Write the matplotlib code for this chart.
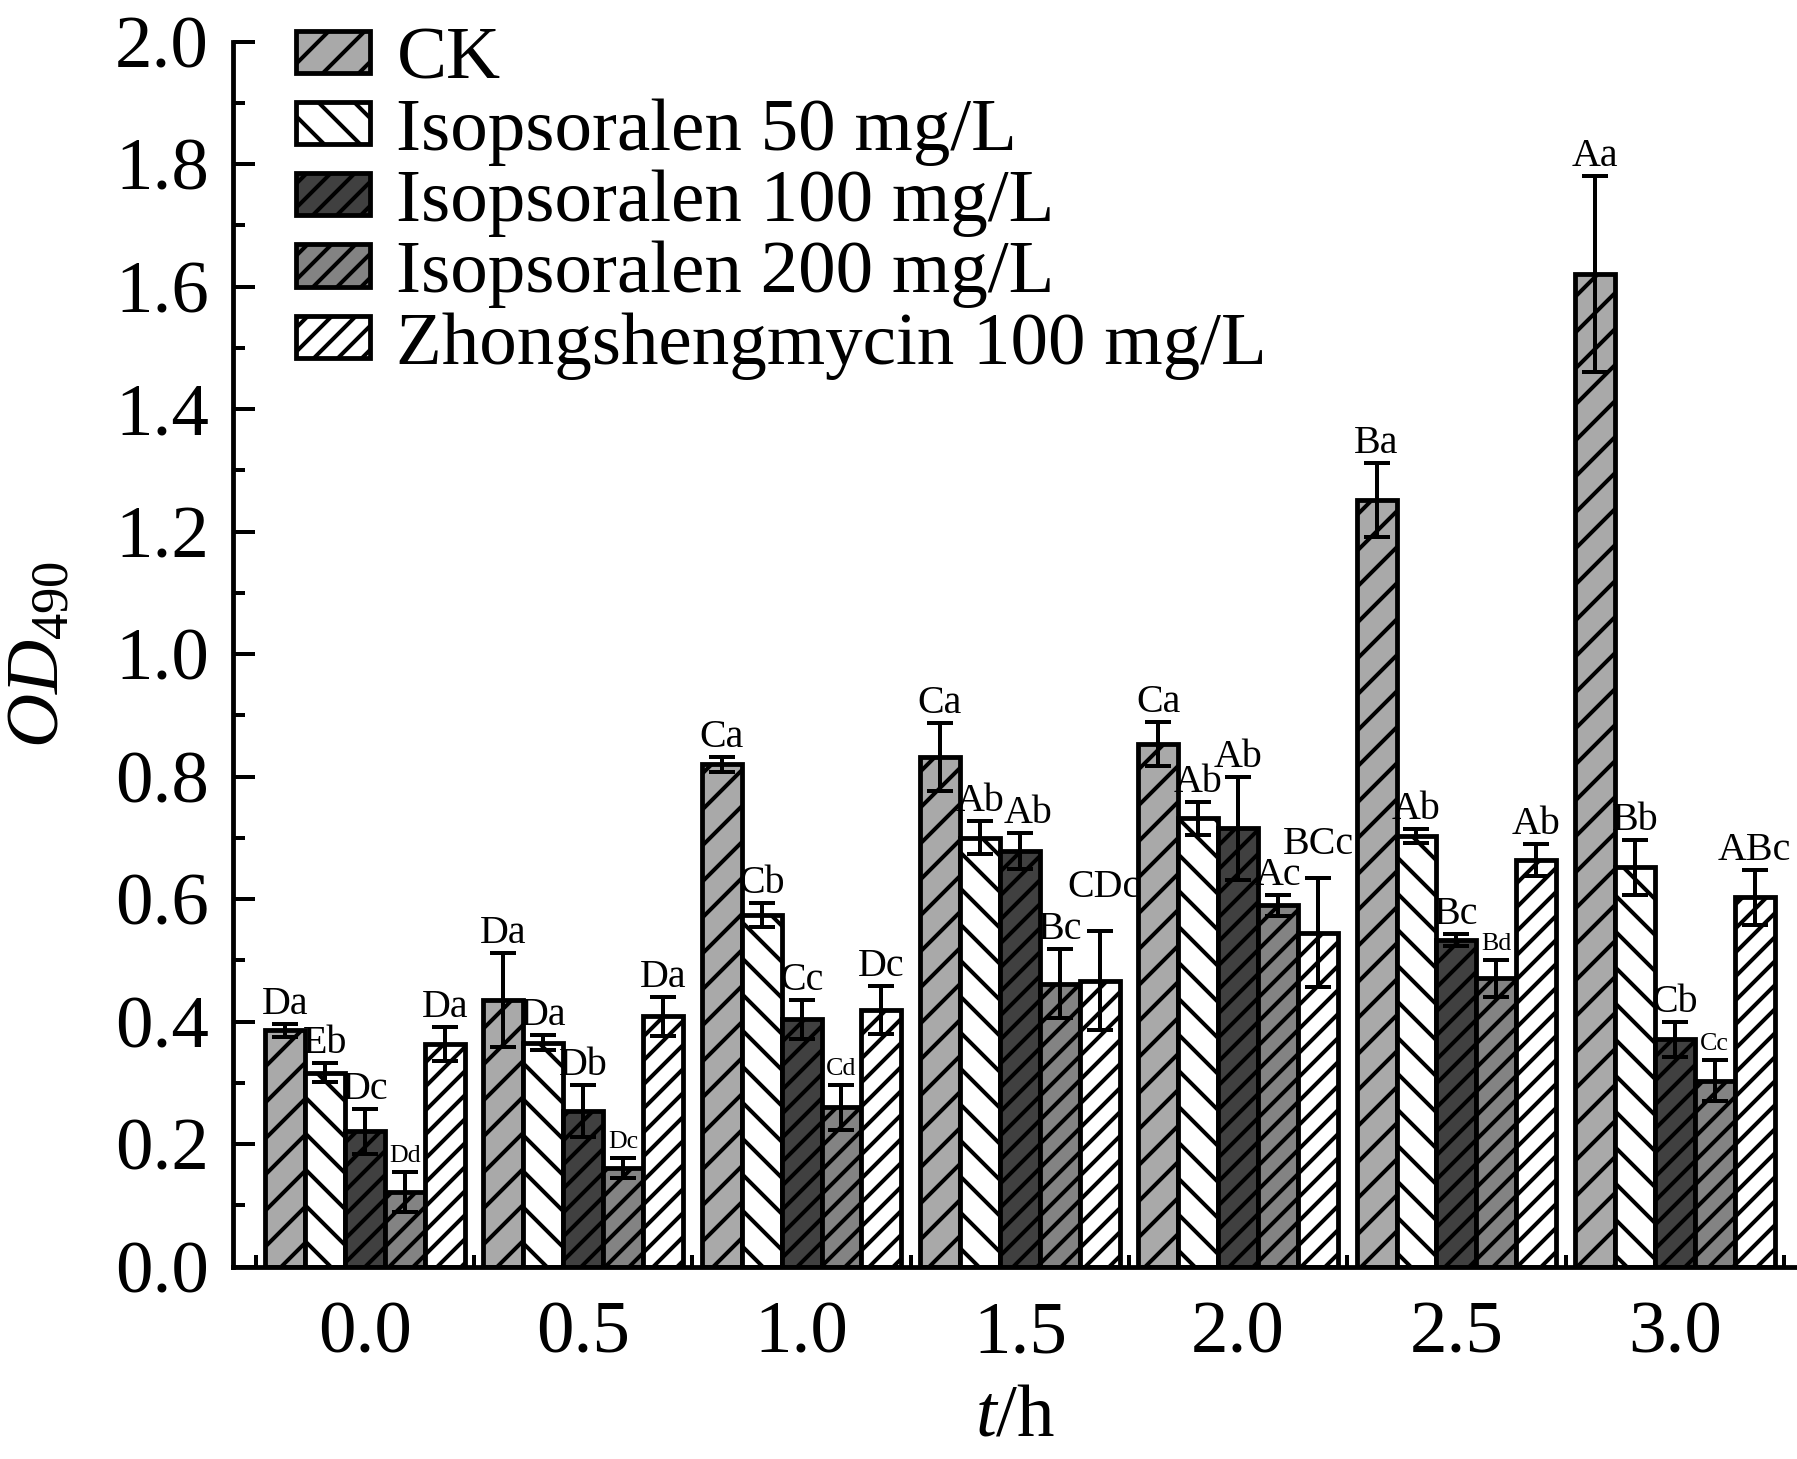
import numpy as np
import matplotlib
matplotlib.use("Agg")
import matplotlib.pyplot as plt
from matplotlib.ticker import MultipleLocator, FormatStrFormatter

# values
times = [0.0, 0.5, 1.0, 1.5, 2.0, 2.5, 3.0]
series_names = ["CK", "Isopsoralen 50 mg/L", "Isopsoralen 100 mg/L",
                "Isopsoralen 200 mg/L", "Zhongshengmycin 100 mg/L"]

ck = [0.386, 0.435, 0.820, 0.832, 0.853, 1.252, 1.621]
ck_err = [0.011, 0.077, 0.013, 0.055, 0.036, 0.060, 0.160]
iso50 = [0.317, 0.366, 0.574, 0.700, 0.732, 0.703, 0.652]
iso50_err = [0.016, 0.012, 0.020, 0.027, 0.027, 0.011, 0.045]
iso100 = [0.221, 0.254, 0.404, 0.679, 0.716, 0.533, 0.371]
iso100_err = [0.037, 0.043, 0.032, 0.029, 0.084, 0.010, 0.028]
iso200 = [0.122, 0.161, 0.260, 0.462, 0.590, 0.471, 0.304]
iso200_err = [0.033, 0.016, 0.036, 0.056, 0.017, 0.030, 0.034]
zhong = [0.364, 0.409, 0.419, 0.467, 0.545, 0.664, 0.603]
zhong_err = [0.028, 0.032, 0.039, 0.081, 0.089, 0.026, 0.045]

ck_sig = ["Da", "Da", "Ca", "Ca", "Ca", "Ba", "Aa"]
iso50_sig = ["Eb", "Da", "Cb", "Ab", "Ab", "Ab", "Bb"]
iso100_sig = ["Dc", "Db", "Cc", "Ab", "Ab", "Bc", "Cb"]
iso200_sig = ["Dd", "Dc", "Cd", "Bc", "Ac", "Bd", "Cc"]
zhong_sig = ["Da", "Da", "Dc", "CDc", "BCc", "Ab", "ABc"]

means = [ck, iso50, iso100, iso200, zhong]
errs = [ck_err, iso50_err, iso100_err, iso200_err, zhong_err]
sigs = [ck_sig, iso50_sig, iso100_sig, iso200_sig, zhong_sig]

# styles
fills = ["#a9a9a9", "white", "#404040", "#838383", "white"]
hatches = ["//", "\\\\", "///", "///", "///"]
small_sig = {(3, 0), (3, 1), (3, 2), (3, 5), (3, 6)}  # (series, group) drawn smaller
# label nudges in px (dx, extra lift), as placed in the original
nudged_sig = {(4, 3): (4, 24), (4, 4): (0, 14), (2, 3): (8, 0)}

DPI = 216


def P(px):
    # pixels -> points at the output dpi
    return px * 72.0 / DPI


plt.rcParams["font.family"] = ["Liberation Serif", "DejaVu Serif"]
plt.rcParams["mathtext.fontset"] = "custom"
plt.rcParams["mathtext.rm"] = "Liberation Serif"
plt.rcParams["mathtext.it"] = "Liberation Serif:italic"
plt.rcParams["hatch.linewidth"] = P(4)
FS = P(75)

fig = plt.figure(figsize=(1797 / DPI, 1459 / DPI), dpi=DPI)
ax = fig.add_axes([0.1297, 0.1318, 0.8703, 0.8396])

width = 0.0915
x = np.array(times)
for k in range(5):
    pos = x + (k - 2) * width
    ax.bar(pos, means[k], width, color=fills[k], edgecolor="black",
           linewidth=P(4.8), hatch=hatches[k], label=series_names[k], zorder=2)
    ax.errorbar(pos, means[k], yerr=errs[k], fmt="none", ecolor="black",
                elinewidth=P(4), capsize=P(13), capthick=P(4), zorder=3)
    for i in range(len(times)):
        fs = P(26) if (k, i) in small_sig else P(40)
        dx, dy = nudged_sig.get((k, i), (0, 0))
        ax.annotate(sigs[k][i], (pos[i], means[k][i] + errs[k][i]),
                    xytext=(P(dx), P(10 + dy)), textcoords="offset points",
                    ha="center", va="baseline", fontsize=fs, zorder=4)

ax.set_xlim(-0.302, 3.28)
ax.set_ylim(0, 2.0)
ax.set_xticks(times)
ax.set_xticklabels([f"{t:.1f}" for t in times])
ax.xaxis.set_minor_locator(MultipleLocator(0.25))
ax.yaxis.set_major_locator(MultipleLocator(0.2))
ax.yaxis.set_minor_locator(MultipleLocator(0.1))
ax.yaxis.set_major_formatter(FormatStrFormatter("%.1f"))

ax.tick_params(which="both", direction="in", width=P(4))
ax.tick_params(which="major", length=P(22), labelsize=FS)
ax.tick_params(which="minor", length=P(12))
ax.tick_params(axis="y", which="major", pad=P(24))
ax.tick_params(axis="x", which="major", pad=P(34))

for side in ["top", "right"]:
    ax.spines[side].set_visible(False)
for side in ["left", "bottom"]:
    ax.spines[side].set_linewidth(P(4.8))

ax.set_xlabel(r"$t$/h", fontsize=FS, labelpad=P(16))
ax.set_ylabel(r"$OD_{490}$", fontsize=FS, labelpad=P(41))

ax.legend(loc="upper left", bbox_to_anchor=(296 / 1797, 1 - 27 / 1459),
          bbox_transform=fig.transFigure, frameon=False, borderpad=0,
          borderaxespad=0, handlelength=0.98, handleheight=0.49,
          handletextpad=0.36, labelspacing=0.05, fontsize=FS)

fig.savefig("out.png", dpi=DPI)
